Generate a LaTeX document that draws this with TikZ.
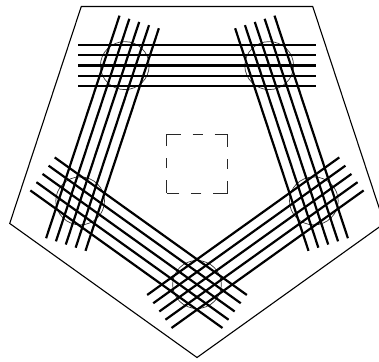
\documentclass[tikz,border=0pt]{standalone}
\usetikzlibrary{calc}
\definecolor{ringline}{RGB}{50,50,50}
\definecolor{hubline}{RGB}{40,40,40}
\tikzset{
  rimline/.style={
    draw=black, line width=1.1pt, line join=miter
  },
  strand/.style={
    draw=black, line width=2.2pt
  },
  ring/.style={
    draw=ringline, line width=0.7pt
  },
  hubbox/.style={
    draw=hubline, line width=0.8pt,
    dash pattern=on 10pt off 12pt on 26pt off 12pt, dash phase=35pt
  }
}
\newcommand{\Rout}{194}
\newcommand{\Rin}{121}

\begin{document}
\begin{tikzpicture}[x=1pt, y=1pt]
  \useasboundingbox (-197,-197.5) rectangle (182,163.5);
  \clip (-197,-197.5) rectangle (182,163.5);
  \begin{scope}[xscale=1.015]
    \coordinate (hub) at (0,0);
    % corners of the inner ring
    \foreach \i/\a in {0/270, 1/342, 2/54, 3/126, 4/198}
      \coordinate (c\i) at (\a:\Rin);
    \foreach \i in {0,...,4}
      \draw[ring] (c\i) circle (24);

    % five bundles of five strands
    \foreach \i in {0,...,4}
      \foreach \k in {-2,...,2}
        \draw[strand, rotate=72*\i] (-117,{97.9+10.2*\k}) -- (117,{97.9+10.2*\k});

    \draw[rimline] (270:\Rout) \foreach \a in {342,54,126,198} {-- (\a:\Rout)} -- cycle;
    \draw[hubbox] ($(hub)+(-30,-29.5)$) rectangle ($(hub)+(30,29.5)$);
  \end{scope}
\end{tikzpicture}
\end{document}
